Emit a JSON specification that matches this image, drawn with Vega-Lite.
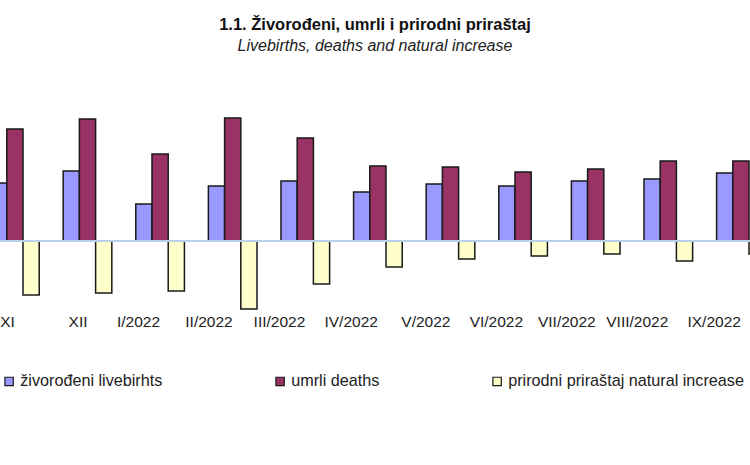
{
  "$schema": "https://vega.github.io/schema/vega-lite/v6.json",
  "autosize": "none",
  "width": 750,
  "height": 210,
  "padding": {"top": 100, "left": 0, "right": 0, "bottom": 155},
  "background": "white",
  "title": {
    "text": "1.1. Živorođeni, umrli  i prirodni priraštaj",
    "subtitle": "Livebirths,  deaths and natural increase",
    "anchor": "middle",
    "font": "Liberation Sans, Arial",
    "fontSize": 16.5,
    "fontWeight": "bold",
    "color": "#111",
    "subtitleFont": "Liberation Sans, Arial",
    "subtitleFontSize": 16,
    "subtitleFontStyle": "italic",
    "subtitleColor": "#222",
    "subtitlePadding": 5,
    "offset": 46
  },
  "data": {
    "values": [
      {"month": "XI", "series": "živorođeni livebirhts", "value": 580},
      {"month": "XI", "series": "umrli deaths", "value": 1120},
      {"month": "XI", "series": "prirodni priraštaj natural increase", "value": -540},
      {"month": "XII", "series": "živorođeni livebirhts", "value": 700},
      {"month": "XII", "series": "umrli deaths", "value": 1220},
      {"month": "XII", "series": "prirodni priraštaj natural increase", "value": -520},
      {"month": "I/2022", "series": "živorođeni livebirhts", "value": 370},
      {"month": "I/2022", "series": "umrli deaths", "value": 870},
      {"month": "I/2022", "series": "prirodni priraštaj natural increase", "value": -500},
      {"month": "II/2022", "series": "živorođeni livebirhts", "value": 550},
      {"month": "II/2022", "series": "umrli deaths", "value": 1230},
      {"month": "II/2022", "series": "prirodni priraštaj natural increase", "value": -680},
      {"month": "III/2022", "series": "živorođeni livebirhts", "value": 600},
      {"month": "III/2022", "series": "umrli deaths", "value": 1030},
      {"month": "III/2022", "series": "prirodni priraštaj natural increase", "value": -430},
      {"month": "IV/2022", "series": "živorođeni livebirhts", "value": 490},
      {"month": "IV/2022", "series": "umrli deaths", "value": 750},
      {"month": "IV/2022", "series": "prirodni priraštaj natural increase", "value": -260},
      {"month": "V/2022", "series": "živorođeni livebirhts", "value": 570},
      {"month": "V/2022", "series": "umrli deaths", "value": 740},
      {"month": "V/2022", "series": "prirodni priraštaj natural increase", "value": -180},
      {"month": "VI/2022", "series": "živorođeni livebirhts", "value": 550},
      {"month": "VI/2022", "series": "umrli deaths", "value": 690},
      {"month": "VI/2022", "series": "prirodni priraštaj natural increase", "value": -150},
      {"month": "VII/2022", "series": "živorođeni livebirhts", "value": 600},
      {"month": "VII/2022", "series": "umrli deaths", "value": 720},
      {"month": "VII/2022", "series": "prirodni priraštaj natural increase", "value": -130},
      {"month": "VIII/2022", "series": "živorođeni livebirhts", "value": 620},
      {"month": "VIII/2022", "series": "umrli deaths", "value": 800},
      {"month": "VIII/2022", "series": "prirodni priraštaj natural increase", "value": -200},
      {"month": "IX/2022", "series": "živorođeni livebirhts", "value": 680},
      {"month": "IX/2022", "series": "umrli deaths", "value": 800},
      {"month": "IX/2022", "series": "prirodni priraštaj natural increase", "value": -130}
    ]
  },
  "config": {"view": {"stroke": null}},
  "layer": [
    {
      "mark": {"type": "bar", "clip": true, "stroke": "#1a1a1a", "strokeWidth": 1.5},
      "encoding": {
        "x": {
          "field": "month",
          "type": "nominal",
          "sort": null,
          "scale": {"range": [-21.4, 777.2], "paddingInner": 0.33, "paddingOuter": 0.165},
          "axis": {
            "title": null,
            "domain": false,
            "ticks": false,
            "labelAngle": 0,
            "labelAlign": "right",
            "labelPadding": 4,
            "labelFont": "Liberation Sans, Arial",
            "labelFontSize": 15.5,
            "labelColor": "#222",
            "labelOverlap": false
          }
        },
        "xOffset": {
          "field": "series",
          "type": "nominal",
          "scale": {"domain": ["živorođeni livebirhts", "umrli deaths", "prirodni priraštaj natural increase"], "paddingInner": 0, "paddingOuter": 0}
        },
        "y": {
          "field": "value",
          "type": "quantitative",
          "scale": {"domain": [-690, 1410], "nice": false, "zero": true},
          "axis": null
        },
        "color": {
          "field": "series",
          "type": "nominal",
          "scale": {
            "domain": ["živorođeni livebirhts", "umrli deaths", "prirodni priraštaj natural increase"],
            "range": ["#9999FF", "#993366", "#FFFFCC"]
          },
          "legend": {
            "title": null,
            "orient": "none",
            "direction": "horizontal",
            "legendX": 1,
            "legendY": 273,
            "symbolType": "square",
            "symbolSize": 70,
            "symbolStrokeColor": "#1a1a1a",
            "symbolStrokeWidth": 1.2,
            "symbolOpacity": 1,
            "labelFont": "Liberation Sans, Arial",
            "labelFontSize": 16.2,
            "labelColor": "#222",
            "labelOffset": 3,
            "columnPadding": 109,
            "labelLimit": 400
          }
        }
      }
    },
    {
      "mark": {"type": "rule", "color": "#b8d0ea", "strokeWidth": 2},
      "encoding": {"y": {"datum": 0}}
    }
  ]
}
